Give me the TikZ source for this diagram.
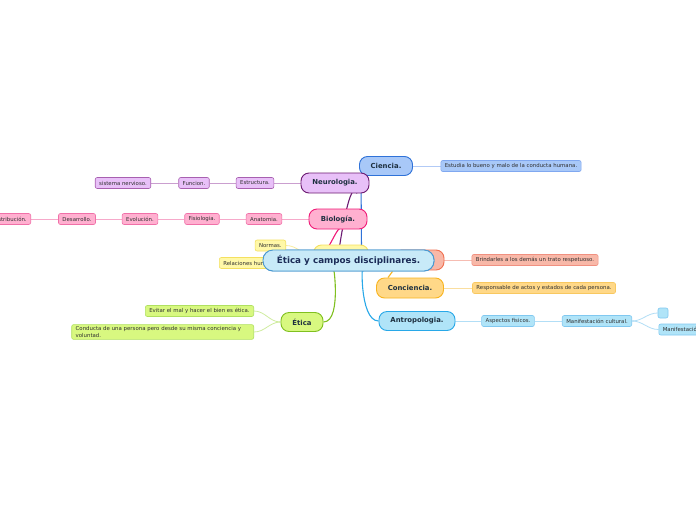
\documentclass[tikz,border=0pt]{standalone}
\usepackage{fontspec}
\setmainfont{DejaVu Sans}
\usepackage{xcolor}
\usepackage{tikz}
\usetikzlibrary{
  positioning,
  backgrounds
}
\definecolor{maintext}{HTML}{1E3040}
\definecolor{leaftext}{HTML}{303030}
\definecolor{centFill}{HTML}{C8EAF8}
\definecolor{centDraw}{HTML}{4A98D0}
\definecolor{centText}{HTML}{1C2C58}
\definecolor{cienFill}{HTML}{A8C8F8}
\definecolor{cienDraw}{HTML}{2F72D8}
\definecolor{cienLeaf}{HTML}{80A8F0}
\definecolor{neuroFill}{HTML}{E8C0F8}
\definecolor{neuroDraw}{HTML}{6C1A72}
\definecolor{neuroLeaf}{HTML}{A860B0}
\definecolor{bioFill}{HTML}{FFB0D0}
\definecolor{bioDraw}{HTML}{F01A78}
\definecolor{bioLeaf}{HTML}{F070A8}
\definecolor{normFill}{HTML}{FFF8A8}
\definecolor{normDraw}{HTML}{F4E060}
\definecolor{respFill}{HTML}{F8B8A8}
\definecolor{respDraw}{HTML}{F07050}
\definecolor{respLeaf}{HTML}{F09080}
\definecolor{concFill}{HTML}{FFD888}
\definecolor{concDraw}{HTML}{F8B420}
\definecolor{concLeaf}{HTML}{F8C860}
\definecolor{antroFill}{HTML}{B0E4F8}
\definecolor{antroDraw}{HTML}{28A8E8}
\definecolor{antroLeaf}{HTML}{80C8F0}
\definecolor{eticaFill}{HTML}{D8F880}
\definecolor{eticaDraw}{HTML}{80C020}
\definecolor{eticaLeaf}{HTML}{B0E060}
\tikzset{
  mainnode/.style={rectangle,draw,rounded corners=8pt,line width=0.9pt,text=maintext,font=\fontsize{6.9}{8}\selectfont\bfseries,inner sep=2pt},
  centnode/.style={mainnode,fill=centFill,draw=centDraw,text=centText,rounded corners=10pt,font=\fontsize{8.8}{10}\selectfont\bfseries,minimum width=171pt,minimum height=21pt},
  leaf/.style={rectangle,draw,rounded corners=2pt,line width=0.6pt,text=leaftext,font=\fontsize{5.4}{6.6}\selectfont,minimum height=11pt,inner xsep=4pt,inner ysep=1.5pt},
  link/.style={line width=1.1pt},
  leaflink/.style={line width=0.8pt,opacity=0.6},
  cien/.style={fill=cienFill,draw=cienDraw},
  neuro/.style={fill=neuroFill,draw=neuroDraw},
  bio/.style={fill=bioFill,draw=bioDraw},
  norm/.style={fill=normFill,draw=normDraw},
  resp/.style={fill=respFill,draw=respDraw},
  conc/.style={fill=concFill,draw=concDraw},
  antro/.style={fill=antroFill,draw=antroDraw},
  etica/.style={fill=eticaFill,draw=eticaDraw}
}

\begin{document}
\begin{tikzpicture}[x=1pt, y=-1pt, node distance=62pt, on grid]
    \useasboundingbox (0,0) rectangle (696,520);

    \node[mainnode,cien,minimum width=53pt,minimum height=19pt] (ciencia) at (386,166) {Ciencia.};
    \node[mainnode,neuro,minimum width=68pt,minimum height=20pt] (neurologia) at (335,183) {Neurologia.};
    \node[mainnode,bio,minimum width=58pt,minimum height=20pt] (biologia) at (338,219) {Biología.};
    \node[mainnode,norm,minimum width=55pt,minimum height=20pt] (normas) at (341,255) {};
    \node[mainnode,resp,minimum width=50pt,minimum height=20pt] (respeto) at (419,260) {};
    \node[centnode] (centro) at (348.5,260.5) {Ética y campos disciplinares.};
    \node[mainnode,conc,minimum width=67pt,minimum height=20pt] (conciencia) at (410,288) {Conciencia.};
    \node[mainnode,antro,minimum width=76pt,minimum height=19pt] (antropologia) at (417,321) {Antropologia.};
    \node[mainnode,etica,minimum width=42pt,minimum height=19pt] (etica) at (302,322) {Ética};

    \node[leaf,fill=cienFill,draw=cienLeaf,right=125pt of ciencia] (estudia) {Estudia lo bueno y malo de la conducta humana.};

    \node[leaf,fill=neuroFill,draw=neuroLeaf,left=80pt of neurologia] (estructura) {Estructura.};
    \node[leaf,fill=neuroFill,draw=neuroLeaf,left=61pt of estructura] (funcion) {Funcion.};
    \node[leaf,fill=neuroFill,draw=neuroLeaf,left=71pt of funcion] (sistema) {sistema nervioso.};

    \node[leaf,fill=bioFill,draw=bioLeaf,left=74pt of biologia] (anatomia) {Anatomia.};
    \node[leaf,fill=bioFill,draw=bioLeaf,left=62pt of anatomia] (fisiologia) {Fisiologia.};
    \node[leaf,fill=bioFill,draw=bioLeaf,left=62pt of fisiologia] (evolucion) {Evolución.};
    \node[leaf,fill=bioFill,draw=bioLeaf,left=63pt of evolucion] (desarrollo) {Desarrollo.};
    \node[leaf,fill=bioFill,draw=bioLeaf,anchor=east] (distribucion) at (31,219) {Distribución.};

    \node[leaf,fill=normFill,draw=normDraw,anchor=east] (normasleaf) at (286,245.5) {Normas.};
    \node[leaf,fill=normFill,draw=normDraw,anchor=west] (relaciones) at (219,263) {Relaciones humanas.};
    \node[centnode] at (centro) {Ética y campos disciplinares.};

    \node[leaf,fill=respFill,draw=respLeaf,right=116pt of respeto] (brindar) {Brindarles a los demás un trato respetuoso.};
    \node[leaf,fill=concFill,draw=concLeaf,right=134pt of conciencia] (responsable) {Responsable de actos y estados de cada persona.};

    \node[leaf,fill=antroFill,draw=antroLeaf,right=91pt of antropologia] (aspectos) {Aspectos fisicos.};
    \node[leaf,fill=antroFill,draw=antroLeaf,right=89pt of aspectos] (manifcultural) {Manifestación cultural.};
    \node[leaf,fill=antroFill,draw=antroLeaf,minimum width=10pt,minimum height=10pt,inner sep=0pt] (vacio) at (663,313) {};
    \node[leaf,fill=antroFill,draw=antroLeaf,anchor=west] (manif) at (658.5,329.5) {Manifestación};

    \node[leaf,fill=eticaFill,draw=eticaLeaf,anchor=east] (evitar) at (254,311) {Evitar el mal y hacer el bien es ética.};
    \node[leaf,fill=eticaFill,draw=eticaLeaf,anchor=east,text width=174pt,align=left,inner ysep=2pt] (conducta) at (254,332) {Conducta de una persona pero desde su misma conciencia y\\voluntad.};

    \begin{scope}[on background layer]
    \fill[white] (0,0) rectangle (696,520);
    \draw[link,draw=cienDraw] ([xshift=13pt]centro.north) -- ([xshift=-25pt]ciencia.south);
    \draw[link,draw=neuroDraw] ([xshift=-9pt]centro.north) to[out=-100,in=110] ([xshift=22pt]neurologia.south);
    \draw[link,draw=bioDraw] ([xshift=-27pt]centro.north) to[out=-60,in=115] ([xshift=5pt]biologia.south);
    \draw[link,draw=eticaDraw] ([xshift=-15pt]centro.south) to[out=95,in=0] (etica.east);
    \draw[link,draw=antroDraw] ([xshift=15pt]centro.south) to[out=95,in=180] (antropologia.west);
    \draw[link,draw=concDraw] ([xshift=44pt]centro.south) -- ([xshift=-22pt]conciencia.north);

    \draw[leaflink,draw=cienLeaf] (ciencia) -- (estudia);
    \draw[leaflink,draw=neuroLeaf] (neurologia) -- (estructura) -- (funcion) -- (sistema);
    \draw[leaflink,draw=bioLeaf] (biologia) -- (anatomia) -- (fisiologia) -- (evolucion) -- (desarrollo) -- (distribucion);
    \draw[leaflink,draw=normDraw] (normasleaf.east) to[out=0,in=180] (normas.west);
    \draw[leaflink,draw=normDraw] (relaciones.east) to[out=0,in=180] (normas.west);
    \draw[leaflink,draw=respLeaf] (respeto) -- (brindar);
    \draw[leaflink,draw=concLeaf] (conciencia) -- (responsable);
    \draw[leaflink,draw=antroLeaf] (antropologia) -- (aspectos) -- (manifcultural);
    \draw[leaflink,draw=antroLeaf] (manifcultural.east) to[out=0,in=180] (vacio.west);
    \draw[leaflink,draw=antroLeaf] (manifcultural.east) to[out=0,in=180] (manif.west);
    \draw[leaflink,draw=eticaLeaf] (etica.west) to[out=180,in=0] (evitar.east);
    \draw[leaflink,draw=eticaLeaf] (etica.west) to[out=180,in=0] (conducta.east);
    \end{scope}
\end{tikzpicture}
\end{document}
